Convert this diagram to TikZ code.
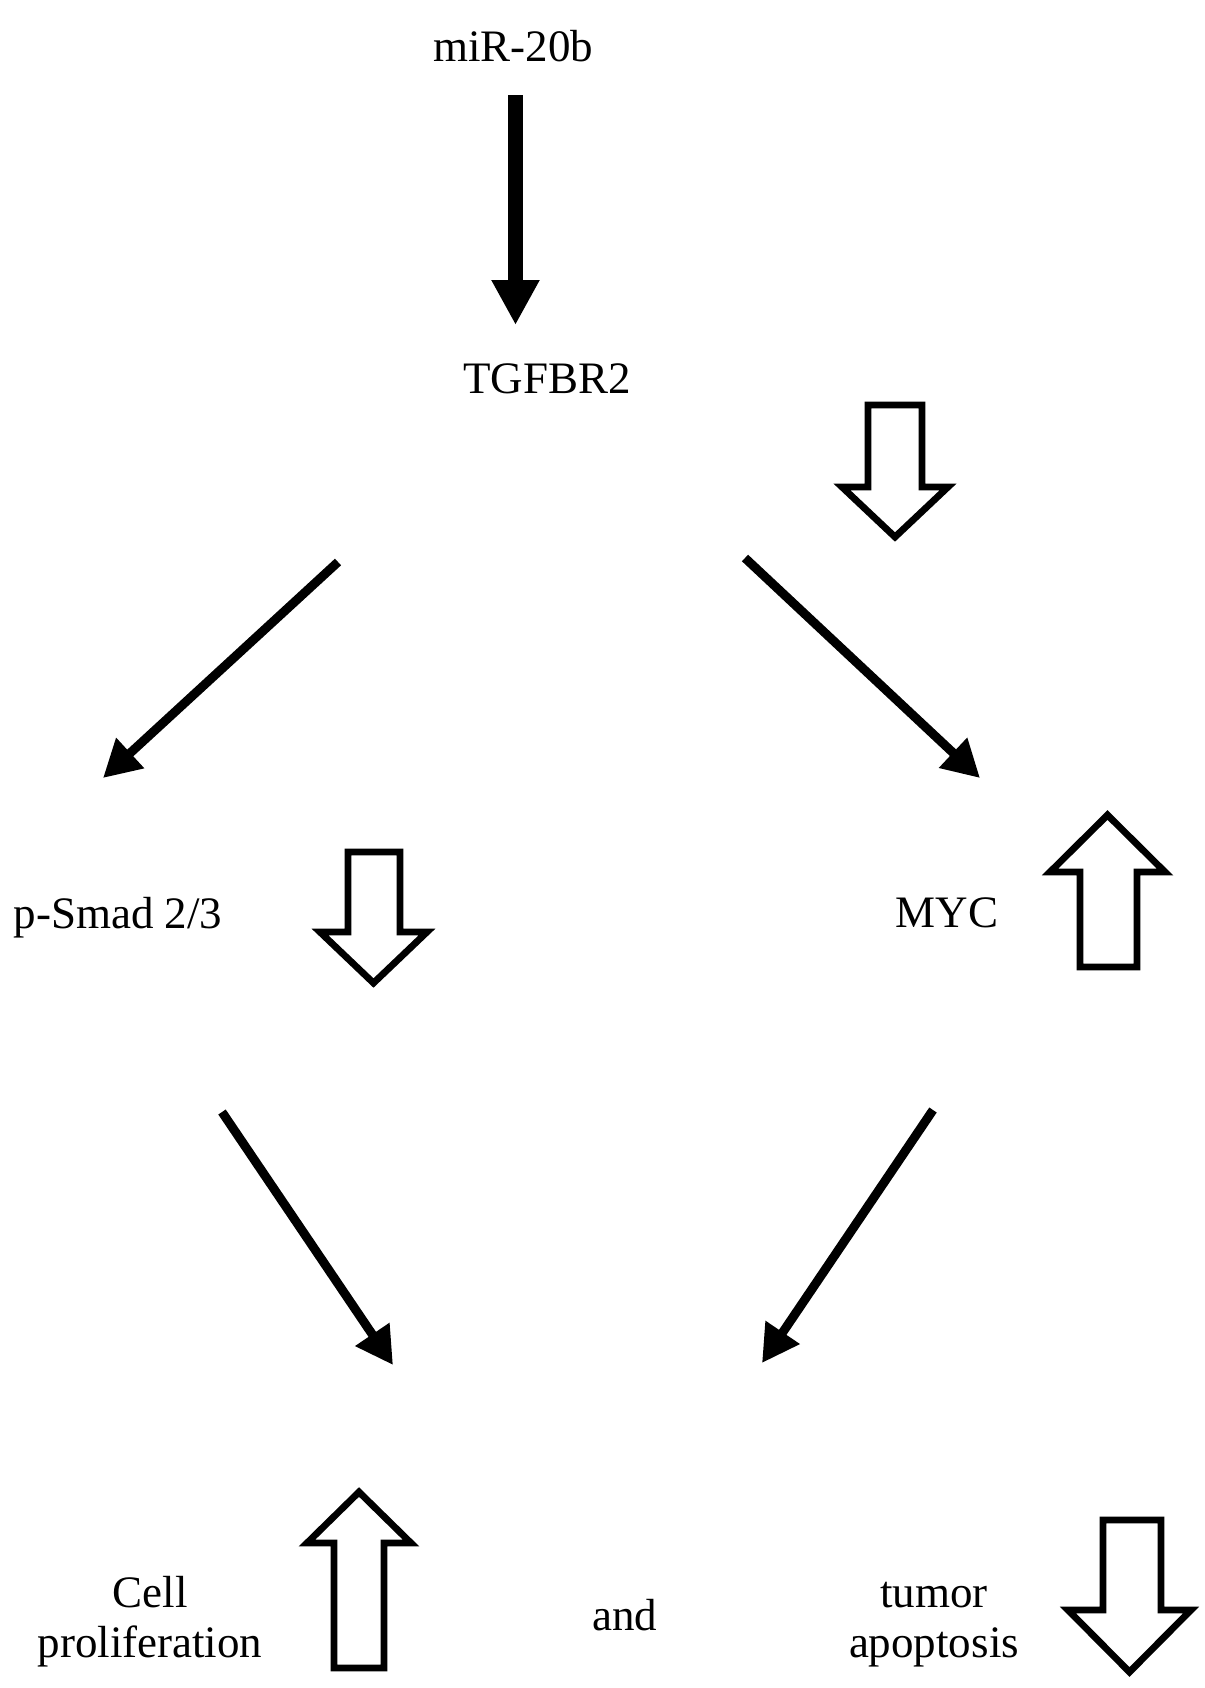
\documentclass[tikz,border=0pt]{standalone}
\usepackage{fontspec}
\setmainfont{Liberation Serif}
\usetikzlibrary{arrows.meta}

\begin{document}
\begin{tikzpicture}[x=0.5pt, y=-0.5pt,
  every node/.style={font=\fontsize{22.5}{25}\selectfont, inner sep=0pt},
  lbl/.style={anchor=base, align=center},
  link/.style={-{Triangle[length=18.5pt, width=19.5pt]}, line width=4.5pt},
  hollow/.style={draw, line width=3.4pt, fill=white, line join=miter}]
  \useasboundingbox (0,0) rectangle (1205,1688);

  % --- miR-20b -> TGFBR2 ---
  \node[lbl] (mir) at (513,61) {miR-20b};
  \node[lbl] (tgf) at (547,393) {TGFBR2};
  \coordinate (mirfoot) at (515.5,95);
  \coordinate (tgfhead) at (515.5,325);
  \draw[-{Triangle[length=22.5pt, width=22.5pt]}, line width=7.5pt] (mirfoot) -- (tgfhead);
  % TGFBR2 down
  \draw[hollow] (868,405) -- (922,405) -- (922,487) -- (948,487) -- (895,537)
    -- (842,487) -- (868,487) -- cycle;

  % --- TGFBR2 -> p-Smad 2/3 and MYC ---
  \coordinate (tgfleft) at (338,562);
  \coordinate (tgfright) at (745,558);
  \coordinate (smadtop) at (103,778);
  \coordinate (myctop) at (980,778);
  \draw[link] (tgfleft) -- (smadtop);
  \draw[link] (tgfright) -- (myctop);

  % p-Smad 2/3 (down)
  \node[lbl] (smad) at (118,928) {p-Smad 2/3};
  \draw[hollow] (348,852) -- (400,852) -- (400,932) -- (427,932) -- (373.5,983)
    -- (320,932) -- (348,932) -- cycle;
  % MYC (up)
  \node[lbl] (myc) at (947,927) {MYC};
  \draw[hollow] (1080,967) -- (1137,967) -- (1137,872) -- (1165,872) -- (1107.5,815)
    -- (1050,872) -- (1080,872) -- cycle;

  % --- p-Smad 2/3 and MYC -> outcome ---
  \coordinate (smadfoot) at (222,1112);
  \coordinate (mycfoot) at (933,1110);
  \coordinate (outleft) at (393,1365);
  \coordinate (outright) at (762,1363);
  \draw[link] (smadfoot) -- (outleft);
  \draw[link] (mycfoot) -- (outright);

  % Outcome
  \node[lbl] (prolif) at (150,1657) {Cell\\proliferation};
  \draw[hollow] (334,1668) -- (384,1668) -- (384,1543) -- (411,1543) -- (359,1492)
    -- (307,1543) -- (334,1543) -- cycle;
  \node[lbl] (and) at (625,1630) {and};
  \node[lbl] (apop) at (934,1657) {tumor\\apoptosis};
  \draw[hollow] (1103,1520) -- (1161,1520) -- (1161,1610) -- (1191,1610) -- (1129.5,1672)
    -- (1068,1610) -- (1103,1610) -- cycle;
\end{tikzpicture}
\end{document}
